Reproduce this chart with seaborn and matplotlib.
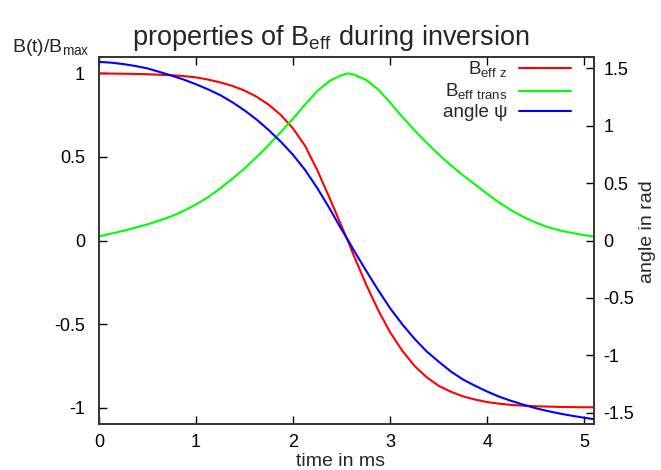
import matplotlib
matplotlib.use("Agg")
import matplotlib.pyplot as plt
from matplotlib.ticker import FuncFormatter
import seaborn as sns
import pandas as pd

# ---- data ----
time_ms = [0.0, 0.125, 0.25, 0.375, 0.5, 0.625, 0.75, 0.875, 1.0, 1.125, 1.25,
           1.375, 1.5, 1.625, 1.75, 1.875, 2.0, 2.125, 2.25, 2.375, 2.5, 2.5625,
           2.625, 2.75, 2.875, 3.0, 3.125, 3.25, 3.375, 3.5, 3.625, 3.75, 3.875,
           4.0, 4.125, 4.25, 4.375, 4.5, 4.625, 4.75, 4.875, 5.0, 5.1]
b_eff_z = [1.000, 0.999, 0.998, 0.997, 0.995, 0.992, 0.989, 0.984, 0.976, 0.963,
           0.946, 0.925, 0.897, 0.860, 0.812, 0.750, 0.670, 0.565, 0.420, 0.255,
           0.085, 0.000, -0.090, -0.260, -0.415, -0.550, -0.660, -0.750, -0.818,
           -0.870, -0.905, -0.933, -0.952, -0.967, -0.977, -0.984, -0.989, -0.992,
           -0.994, -0.996, -0.997, -0.998, -0.998]
b_eff_trans = [0.025, 0.041, 0.058, 0.077, 0.097, 0.120, 0.146, 0.178, 0.216, 0.260,
               0.312, 0.370, 0.432, 0.500, 0.573, 0.650, 0.730, 0.815, 0.895, 0.955,
               0.990, 1.000, 0.993, 0.962, 0.905, 0.825, 0.740, 0.660, 0.585, 0.515,
               0.450, 0.390, 0.335, 0.280, 0.226, 0.180, 0.140, 0.107, 0.080, 0.060,
               0.045, 0.032, 0.024]
angle_psi = [1.555, 1.548, 1.536, 1.519, 1.498, 1.467, 1.435, 1.400, 1.360, 1.315,
             1.265, 1.203, 1.132, 1.052, 0.960, 0.858, 0.745, 0.612, 0.455, 0.280,
             0.095, 0.008, -0.085, -0.260, -0.430, -0.590, -0.730, -0.855, -0.965,
             -1.055, -1.140, -1.210, -1.265, -1.315, -1.360, -1.397, -1.430, -1.460,
             -1.485, -1.507, -1.526, -1.543, -1.555]

x_ticks = [0, 1, 2, 3, 4, 5]
y_ticks = [-1, -0.5, 0, 0.5, 1]
y2_ticks = [-1.5, -1, -0.5, 0, 0.5, 1, 1.5]
labels = [r"B$_\mathregular{eff\ z}$", r"B$_\mathregular{eff\ trans}$", "angle ψ"]
colors = ["#ff0000", "#00ff00", "#0000ff"]

df = pd.DataFrame({"t": time_ms, "bz": b_eff_z, "btr": b_eff_trans, "psi": angle_psi})

sns.set_style("white")
plt.rcParams["font.family"] = ["Liberation Sans", "DejaVu Sans"]
plt.rcParams["mathtext.fontset"] = "custom"
plt.rcParams["mathtext.rm"] = "Liberation Sans"
plt.rcParams["axes.unicode_minus"] = False

W, H = 661, 470
fig = plt.figure(figsize=(W / 100, H / 100), dpi=100)
L, R, T, B = 99, 594, 56.7, 424.3
ax = fig.add_axes([L / W, 1 - B / H, (R - L) / W, (B - T) / H])
ax2 = ax.twinx()

lw = 1.5
sns.lineplot(data=df, x="t", y="bz", ax=ax, color=colors[0], lw=lw, estimator=None, sort=False)
sns.lineplot(data=df, x="t", y="btr", ax=ax, color=colors[1], lw=lw, estimator=None, sort=False)
sns.lineplot(data=df, x="t", y="psi", ax=ax2, color=colors[2], lw=lw, estimator=None, sort=False)
for a in (ax, ax2):
    for ln in a.get_lines():
        ln.set_solid_joinstyle("round")

ax.set_xlim(0, 5.1)
ax.set_ylim(-1.1, 1.1)
ax2.set_ylim(-1.6, 1.6)
ax.set_xticks(x_ticks)
ax.set_yticks(y_ticks)
ax2.set_yticks(y2_ticks)
fmt = FuncFormatter(lambda v, p: "%g" % v)
ax.xaxis.set_major_formatter(fmt)
ax.yaxis.set_major_formatter(fmt)
ax2.yaxis.set_major_formatter(fmt)
ax.set_xlabel("")
ax.set_ylabel("")
ax2.set_ylabel("")

ax.tick_params(axis="x", direction="in", length=6, width=1, top=True, bottom=True,
               labelsize=13, pad=7, colors="black")
ax.tick_params(axis="y", direction="in", length=6, width=1, left=True, right=False,
               labelsize=13, pad=10, colors="black")
ax2.tick_params(axis="y", direction="in", length=6, width=1, right=True, left=False,
                labelsize=13, pad=7, colors="black")
for a in (ax, ax2):
    for s in a.spines.values():
        s.set_color("#333333")
        s.set_linewidth(1.2)
        s.set_visible(True)

handles = [ax.get_lines()[0], ax.get_lines()[1], ax2.get_lines()[0]]
leg = ax2.legend(handles, labels, loc="upper right",
                 bbox_to_anchor=((571 - L) / (R - L), (B - 60) / (B - T)),
                 frameon=False, markerfirst=False, fontsize=13.5, handlelength=2.8,
                 handletextpad=0.6, borderpad=0, borderaxespad=0, labelspacing=0.1)

fig.text(330.5 / W, 1 - 45 / H, r"properties of B$_\mathregular{eff}$ during inversion",
         ha="center", va="baseline", fontsize=19.5)
fig.text(12 / W, 1 - 52 / H, r"B(t)/B$_\mathregular{max}$", ha="left", va="baseline", fontsize=14)
fig.text(648 / W, 1 - 232 / H, "angle in rad", rotation=90, ha="center", va="center", fontsize=14)
fig.text(340 / W, 1 - 453 / H, "time in ms", ha="center", va="top", fontsize=14)

fig.savefig("out.png", dpi=100)
